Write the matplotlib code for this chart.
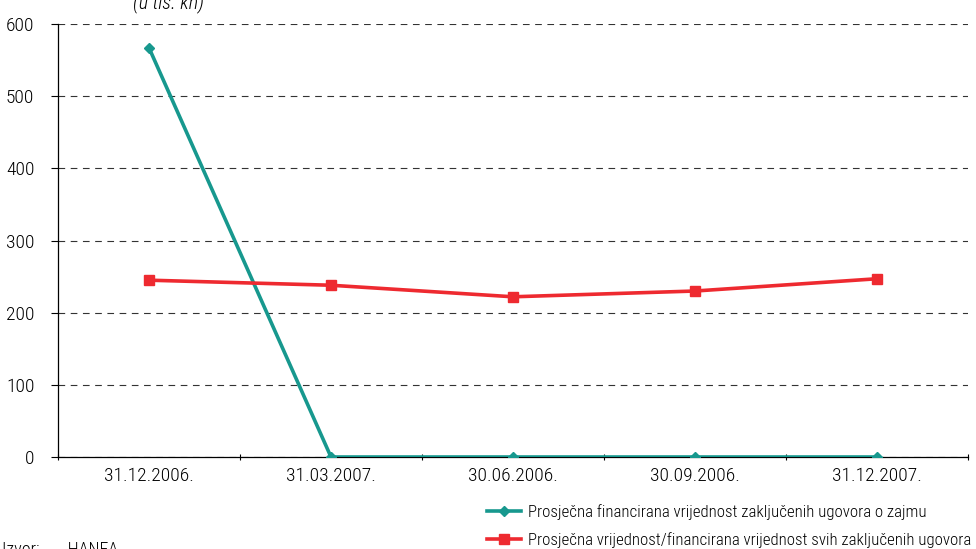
import numpy as np
import matplotlib.pyplot as plt
from matplotlib.ticker import FixedLocator

plt.rcParams['font.family'] = ['Roboto Condensed', 'DejaVu Sans']
plt.rcParams['font.weight'] = 'light'

dates = ["31.12.2006.", "31.03.2007.", "30.06.2006.", "30.09.2006.", "31.12.2007."]
loan_avg = [567, 0, 0, 0, 0]
all_avg = [245, 238, 222, 230, 247]

label_loan = "Prosječna financirana vrijednost zaključenih ugovora o zajmu"
label_all = "Prosječna vrijednost/financirana vrijednost svih zaključenih ugovora"

teal = "#17988e"
red = "#ee2a30"

fig = plt.figure(figsize=(9.76, 5.49), dpi=100)
ax = fig.add_axes([58/976, 1 - 457/549, 910/976, 433/549])

x = np.arange(len(dates))
ax.plot(x, loan_avg, color=teal, lw=2.6, marker='D', ms=5.5, label=label_loan, zorder=3)
ax.plot(x, all_avg, color=red, lw=2.6, marker='s', ms=7, label=label_all, zorder=3)

ax.set_xlim(-0.5, len(dates) - 0.5)
ax.set_ylim(0, 600)
ax.set_yticks(range(0, 601, 100))
ax.set_xticks(x)
ax.set_xticklabels(dates)
ax.xaxis.set_minor_locator(FixedLocator(np.arange(-0.5, len(dates), 1)))
ax.tick_params(axis='x', which='major', length=0, pad=7, labelsize=14)
ax.tick_params(axis='x', which='minor', length=5, direction='inout', width=0.8)
ax.tick_params(axis='y', length=5, width=0.8, pad=12, labelsize=14)

ax.grid(axis='y', color='#333333', linestyle=(0, (6, 5)), lw=0.8)
ax.set_axisbelow(True)
for s in ['top', 'right']:
    ax.spines[s].set_visible(False)
ax.spines['left'].set_linewidth(0.9)
ax.spines['bottom'].set_linewidth(0.9)

fig.text(168/976, 1 - 8/549, "(u tis. kn)", style='italic', fontsize=14.5,
         ha='center', va='baseline')
fig.text(2/976, 1 - 541/549, "Izvor:       HANFA", fontsize=13, ha='left', va='top')

fig.legend(loc='upper left', bbox_to_anchor=(480/976, 1 - 497/549),
           frameon=False, fontsize=12.2, handlelength=2.0, labelspacing=0.72,
           handletextpad=0.45, borderaxespad=0)

plt.savefig("out.png", dpi=100)
